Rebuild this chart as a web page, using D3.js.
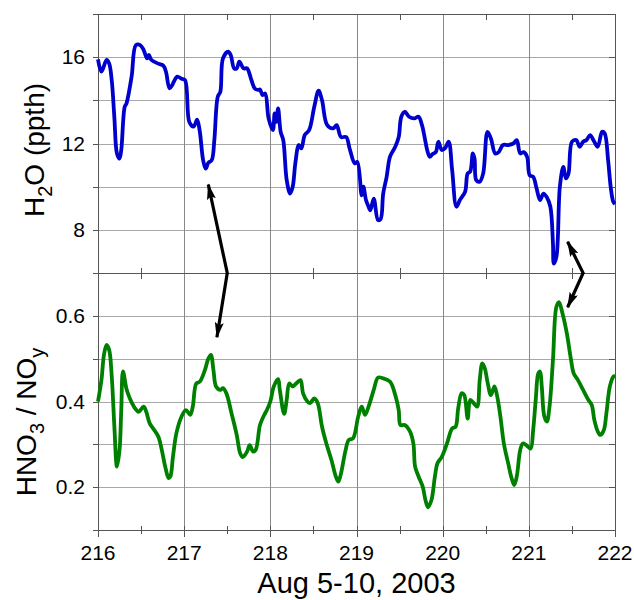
<!DOCTYPE html>
<html>
<head>
<meta charset="utf-8">
<script src="https://d3js.org/d3.v7.min.js"></script>
<style>
  body { margin: 0; background: #fff; }
  text { font-family: "Liberation Sans", Arial, sans-serif; fill: #000; }
</style>
</head>
<body>
<div id="chart-area"></div>
<script>
// day of year, water vapour (ppth)
var h2o = [
  [216.0,15.9],[216.04,15.33],[216.10,15.87],[216.13,15.7],[216.16,14.9],[216.19,13.2],[216.22,11.54],[216.25,11.3],
  [216.27,11.7],[216.31,13.7],[216.33,13.85],[216.39,15.1],[216.44,16.56],[216.49,16.56],[216.53,16.33],[216.57,15.94],
  [216.59,16.1],[216.62,15.87],[216.70,15.7],[216.76,15.6],[216.79,15.3],[216.83,14.55],[216.86,14.7],[216.88,14.86],
  [216.92,15.1],[216.97,15.0],[217.01,14.94],[217.06,13.0],[217.11,12.78],[217.15,13.1],[217.18,12.6],[217.22,11.23],
  [217.25,10.84],[217.28,11.1],[217.32,11.23],[217.35,12.15],[217.39,14.17],[217.42,14.4],[217.45,15.94],[217.51,16.25],
  [217.54,16.1],[217.58,15.48],[217.61,15.48],[217.64,15.79],[217.69,15.48],[217.73,15.48],[217.78,14.94],[217.82,14.55],
  [217.86,14.48],[217.88,14.5],[217.91,14.24],[217.94,14.32],[217.98,13.16],[218.03,12.62],[218.05,13.39],[218.07,13.0],
  [218.09,13.63],[218.12,12.54],[218.15,12.16],[218.19,10.3],[218.23,9.68],[218.26,10.0],[218.29,11.08],[218.33,11.93],
  [218.36,11.77],[218.40,12.4],[218.45,12.62],[218.51,13.7],[218.56,14.45],[218.60,14.0],[218.66,12.85],[218.73,12.7],
  [218.77,12.85],[218.82,12.3],[218.88,12.3],[218.92,11.77],[218.98,11.08],[219.01,11.15],[219.06,9.6],[219.08,10.0],
  [219.11,9.38],[219.14,9.07],[219.16,8.9],[219.20,9.45],[219.25,8.45],[219.28,8.5],[219.31,9.68],[219.35,10.46],
  [219.39,11.4],[219.45,11.85],[219.49,12.3],[219.52,13.24],[219.56,13.47],[219.61,13.24],[219.67,13.16],[219.72,13.24],
  [219.76,12.85],[219.79,12.3],[219.82,11.7],[219.85,11.38],[219.88,11.5],[219.92,11.6],[219.95,12.08],[219.99,11.7],
  [220.03,11.8],[220.07,12.08],[220.11,10.77],[220.16,9.07],[220.20,9.38],[220.26,9.76],[220.29,10.61],[220.32,10.7],
  [220.35,11.54],[220.37,11.3],[220.39,10.3],[220.43,10.23],[220.47,10.61],[220.52,12.54],[220.56,12.23],[220.61,11.54],
  [220.65,11.6],[220.70,11.93],[220.76,11.93],[220.82,12.0],[220.86,12.16],[220.90,11.54],[220.94,11.6],[220.98,11.38],
  [221.01,10.53],[221.05,10.46],[221.09,9.92],[221.13,9.38],[221.17,9.68],[221.21,9.5],[221.25,9.07],[221.28,7.36],
  [221.29,6.44],[221.32,6.75],[221.36,9.99],[221.40,10.92],[221.43,10.38],[221.46,10.6],[221.50,12.08],[221.55,12.16],
  [221.59,11.85],[221.63,12.08],[221.67,12.16],[221.71,12.39],[221.76,12.08],[221.80,11.85],[221.85,12.54],[221.88,12.47],
  [221.92,11.23],[221.95,9.99],[221.98,9.3],[222.0,9.2]
];

// day of year, HNO3 / NOy ratio
var hnoRatio = [
  [216.0,0.40],[216.04,0.45],[216.07,0.51],[216.10,0.532],[216.13,0.52],[216.16,0.457],[216.19,0.341],[216.22,0.248],
  [216.25,0.287],[216.27,0.38],[216.29,0.47],[216.33,0.43],[216.37,0.407],[216.43,0.384],[216.47,0.376],[216.53,0.388],
  [216.56,0.376],[216.60,0.349],[216.64,0.337],[216.70,0.318],[216.74,0.287],[216.78,0.248],[216.82,0.221],[216.84,0.225],
  [216.87,0.271],[216.91,0.326],[216.97,0.365],[217.02,0.38],[217.07,0.369],[217.10,0.388],[217.14,0.442],[217.18,0.446],
  [217.24,0.473],[217.28,0.50],[217.31,0.509],[217.34,0.473],[217.37,0.435],[217.42,0.427],[217.45,0.431],[217.49,0.419],
  [217.55,0.372],[217.61,0.322],[217.65,0.279],[217.68,0.27],[217.73,0.283],[217.76,0.298],[217.80,0.283],[217.83,0.287],
  [217.88,0.345],[217.92,0.365],[217.96,0.38],[218.00,0.40],[218.04,0.435],[218.09,0.452],[218.11,0.427],[218.16,0.371],
  [218.19,0.404],[218.22,0.442],[218.26,0.435],[218.30,0.442],[218.35,0.45],[218.38,0.419],[218.43,0.40],[218.46,0.396],
  [218.51,0.407],[218.55,0.396],[218.60,0.341],[218.65,0.302],[218.71,0.263],[218.76,0.225],[218.79,0.213],[218.82,0.232],
  [218.87,0.283],[218.91,0.31],[218.96,0.314],[219.02,0.365],[219.06,0.388],[219.10,0.369],[219.14,0.388],[219.20,0.427],
  [219.25,0.456],[219.31,0.454],[219.39,0.446],[219.45,0.415],[219.49,0.38],[219.51,0.345],[219.56,0.345],[219.62,0.33],
  [219.66,0.302],[219.68,0.248],[219.72,0.225],[219.77,0.20],[219.80,0.17],[219.83,0.153],[219.87,0.17],[219.91,0.225],
  [219.94,0.256],[219.99,0.271],[220.05,0.302],[220.11,0.337],[220.15,0.341],[220.18,0.384],[220.22,0.419],[220.25,0.415],
  [220.29,0.36],[220.32,0.404],[220.36,0.396],[220.40,0.388],[220.43,0.45],[220.46,0.489],[220.49,0.477],[220.52,0.446],
  [220.56,0.415],[220.60,0.435],[220.63,0.415],[220.67,0.365],[220.71,0.302],[220.76,0.256],[220.80,0.221],[220.83,0.205],
  [220.86,0.225],[220.90,0.287],[220.93,0.302],[220.97,0.298],[221.02,0.29],[221.05,0.333],[221.08,0.404],[221.11,0.466],
  [221.13,0.47],[221.15,0.435],[221.18,0.365],[221.21,0.353],[221.24,0.388],[221.28,0.497],[221.32,0.621],[221.35,0.632],
  [221.39,0.606],[221.44,0.56],[221.49,0.497],[221.52,0.466],[221.57,0.45],[221.63,0.427],[221.69,0.404],[221.73,0.392],
  [221.76,0.357],[221.80,0.33],[221.83,0.322],[221.87,0.333],[221.90,0.372],[221.94,0.435],[221.98,0.458],[222.0,0.46]
];

var xTicks = [216, 217, 218, 219, 220, 221, 222];
var xMinorTicks = [216.5, 217.5, 218.5, 219.5, 220.5, 221.5];
var h2oTicks = [6, 8, 10, 12, 14, 16, 18];
var h2oLabels = [8, 12, 16];
var hnoTicks = [0.1, 0.2, 0.3, 0.4, 0.5, 0.6, 0.7];
var hnoLabels = [0.2, 0.4, 0.6];

// arrows: tip in upper panel, bend on the panel border, tip in lower panel
var arrows = [
  { top: [217.28, 10.1], bend: 217.50, bottom: [217.38, 0.55] },
  { top: [221.45, 7.45], bend: 221.63, bottom: [221.45, 0.62] }
];

var width = 634, height = 600;
var plotLeft = 98, plotRight = 615, plotTop = 14, plotMid = 273, plotBottom = 530;

var svg = d3.select("#chart-area").append("svg")
    .attr("width", width)
    .attr("height", height);

var xScale = d3.scaleLinear().domain([216, 222]).range([plotLeft, plotRight]);
var yTop = d3.scaleLinear().domain([6, 18]).range([plotMid, plotTop]);
var yBot = d3.scaleLinear().domain([0.1, 0.7]).range([plotBottom, plotMid]);

function px(v) { return Math.round(v) + 0.5; }

var grid = svg.append("g").attr("stroke", "#a8a8a8").attr("stroke-width", 1);

// horizontal grid lines
grid.selectAll(null).data(h2oTicks.slice(1, -1)).enter().append("line")
    .attr("x1", plotLeft).attr("x2", plotRight)
    .attr("y1", function(d) { return px(yTop(d)); })
    .attr("y2", function(d) { return px(yTop(d)); });
grid.selectAll(null).data(hnoTicks.slice(1, -1)).enter().append("line")
    .attr("x1", plotLeft).attr("x2", plotRight)
    .attr("y1", function(d) { return px(yBot(d)); })
    .attr("y2", function(d) { return px(yBot(d)); });

// vertical grid lines
grid.selectAll(null).data(xTicks.slice(1, -1)).enter().append("line")
    .attr("stroke", "#888")
    .attr("x1", function(d) { return px(xScale(d)); })
    .attr("x2", function(d) { return px(xScale(d)); })
    .attr("y1", plotTop).attr("y2", plotBottom);

var frame = svg.append("g").attr("stroke", "#555").attr("stroke-width", 1).attr("fill", "none");
frame.append("rect")
    .attr("x", plotLeft + 0.5).attr("y", plotTop + 0.5)
    .attr("width", plotRight - plotLeft).attr("height", plotBottom - plotTop);
frame.append("line")
    .attr("x1", plotLeft).attr("x2", plotRight)
    .attr("y1", plotMid + 0.5).attr("y2", plotMid + 0.5);

// minor ticks on top edge and panel border
frame.selectAll(null).data(xMinorTicks).enter().append("line")
    .attr("x1", function(d) { return px(xScale(d)); })
    .attr("x2", function(d) { return px(xScale(d)); })
    .attr("y1", plotTop).attr("y2", plotTop + 6);
frame.selectAll(null).data(xMinorTicks).enter().append("line")
    .attr("x1", function(d) { return px(xScale(d)); })
    .attr("x2", function(d) { return px(xScale(d)); })
    .attr("y1", plotMid - 5).attr("y2", plotMid + 6);
// bottom axis ticks
frame.selectAll(null).data(xTicks.concat(xMinorTicks)).enter().append("line")
    .attr("x1", function(d) { return px(xScale(d)); })
    .attr("x2", function(d) { return px(xScale(d)); })
    .attr("y1", plotBottom - 4)
    .attr("y2", function(d) { return plotBottom + (xTicks.indexOf(d) >= 0 ? 7 : 4); });

// left ticks (outward) and right ticks (inward)
frame.selectAll(null).data(h2oTicks).enter().append("line")
    .attr("x1", plotLeft - 5).attr("x2", plotLeft)
    .attr("y1", function(d) { return px(yTop(d)); })
    .attr("y2", function(d) { return px(yTop(d)); });
frame.selectAll(null).data(hnoTicks).enter().append("line")
    .attr("x1", plotLeft - 5).attr("x2", plotLeft)
    .attr("y1", function(d) { return px(yBot(d)); })
    .attr("y2", function(d) { return px(yBot(d)); });
frame.selectAll(null).data(h2oTicks).enter().append("line")
    .attr("x1", plotRight - 6).attr("x2", plotRight)
    .attr("y1", function(d) { return px(yTop(d)); })
    .attr("y2", function(d) { return px(yTop(d)); });
frame.selectAll(null).data(hnoTicks).enter().append("line")
    .attr("x1", plotRight - 6).attr("x2", plotRight)
    .attr("y1", function(d) { return px(yBot(d)); })
    .attr("y2", function(d) { return px(yBot(d)); });

// tick labels
svg.selectAll(null).data(xTicks).enter().append("text")
    .attr("x", function(d) { return xScale(d); })
    .attr("y", 560)
    .attr("text-anchor", "middle")
    .style("font-size", "21px")
    .text(function(d) { return d; });
svg.selectAll(null).data(h2oLabels).enter().append("text")
    .attr("x", 85)
    .attr("y", function(d) { return yTop(d) + 7; })
    .attr("text-anchor", "end")
    .style("font-size", "21px")
    .text(function(d) { return d; });
svg.selectAll(null).data(hnoLabels).enter().append("text")
    .attr("x", 85)
    .attr("y", function(d) { return yBot(d) + 7; })
    .attr("text-anchor", "end")
    .style("font-size", "21px")
    .text(function(d) { return d.toFixed(1); });

// axis titles
svg.append("text")
    .attr("x", xScale(219))
    .attr("y", 593)
    .attr("text-anchor", "middle")
    .style("font-size", "29px")
    .text("Aug 5-10, 2003");

var t1 = svg.append("text")
    .attr("transform", "translate(44,150) rotate(-90)")
    .attr("text-anchor", "middle")
    .style("font-size", "28px");
t1.append("tspan").text("H");
t1.append("tspan").attr("dy", 8).style("font-size", "20px").text("2");
t1.append("tspan").attr("dy", -8).text("O (ppth)");

var t2 = svg.append("text")
    .attr("transform", "translate(36,422) rotate(-90)")
    .attr("text-anchor", "middle")
    .style("font-size", "28px");
t2.append("tspan").text("HNO");
t2.append("tspan").attr("dy", 8).style("font-size", "20px").text("3");
t2.append("tspan").attr("dy", -8).text(" / NO");
t2.append("tspan").attr("dy", 8).style("font-size", "20px").text("y");

// data lines
var lineTop = d3.line()
    .x(function(d) { return xScale(d[0]); })
    .y(function(d) { return yTop(d[1]); })
    .curve(d3.curveCatmullRom.alpha(0.5));
var lineBot = d3.line()
    .x(function(d) { return xScale(d[0]); })
    .y(function(d) { return yBot(d[1]); })
    .curve(d3.curveCatmullRom.alpha(0.5));

svg.append("path")
    .datum(h2o)
    .attr("d", lineTop)
    .attr("fill", "none")
    .attr("stroke", "#0000cc")
    .attr("stroke-width", 3.8)
    .attr("stroke-linejoin", "round");
svg.append("path")
    .datum(hnoRatio)
    .attr("d", lineBot)
    .attr("fill", "none")
    .attr("stroke", "#008000")
    .attr("stroke-width", 3.8)
    .attr("stroke-linejoin", "round");

// arrows
svg.append("defs").append("marker")
    .attr("id", "head")
    .attr("markerUnits", "userSpaceOnUse")
    .attr("markerWidth", 16).attr("markerHeight", 9)
    .attr("refX", 15).attr("refY", 4.5)
    .attr("orient", "auto-start-reverse")
    .append("path")
    .attr("d", "M0,0 L16,4.5 L0,9 L3,4.5 z")
    .attr("fill", "#000");

svg.selectAll(null).data(arrows).enter().append("path")
    .attr("d", function(d) {
        return "M" + xScale(d.top[0]) + "," + yTop(d.top[1]) +
            "L" + xScale(d.bend) + "," + plotMid +
            "L" + xScale(d.bottom[0]) + "," + yBot(d.bottom[1]);
    })
    .attr("fill", "none")
    .attr("stroke", "#000")
    .attr("stroke-width", 3.2)
    .attr("marker-start", "url(#head)")
    .attr("marker-end", "url(#head)");
</script>
</body>
</html>
